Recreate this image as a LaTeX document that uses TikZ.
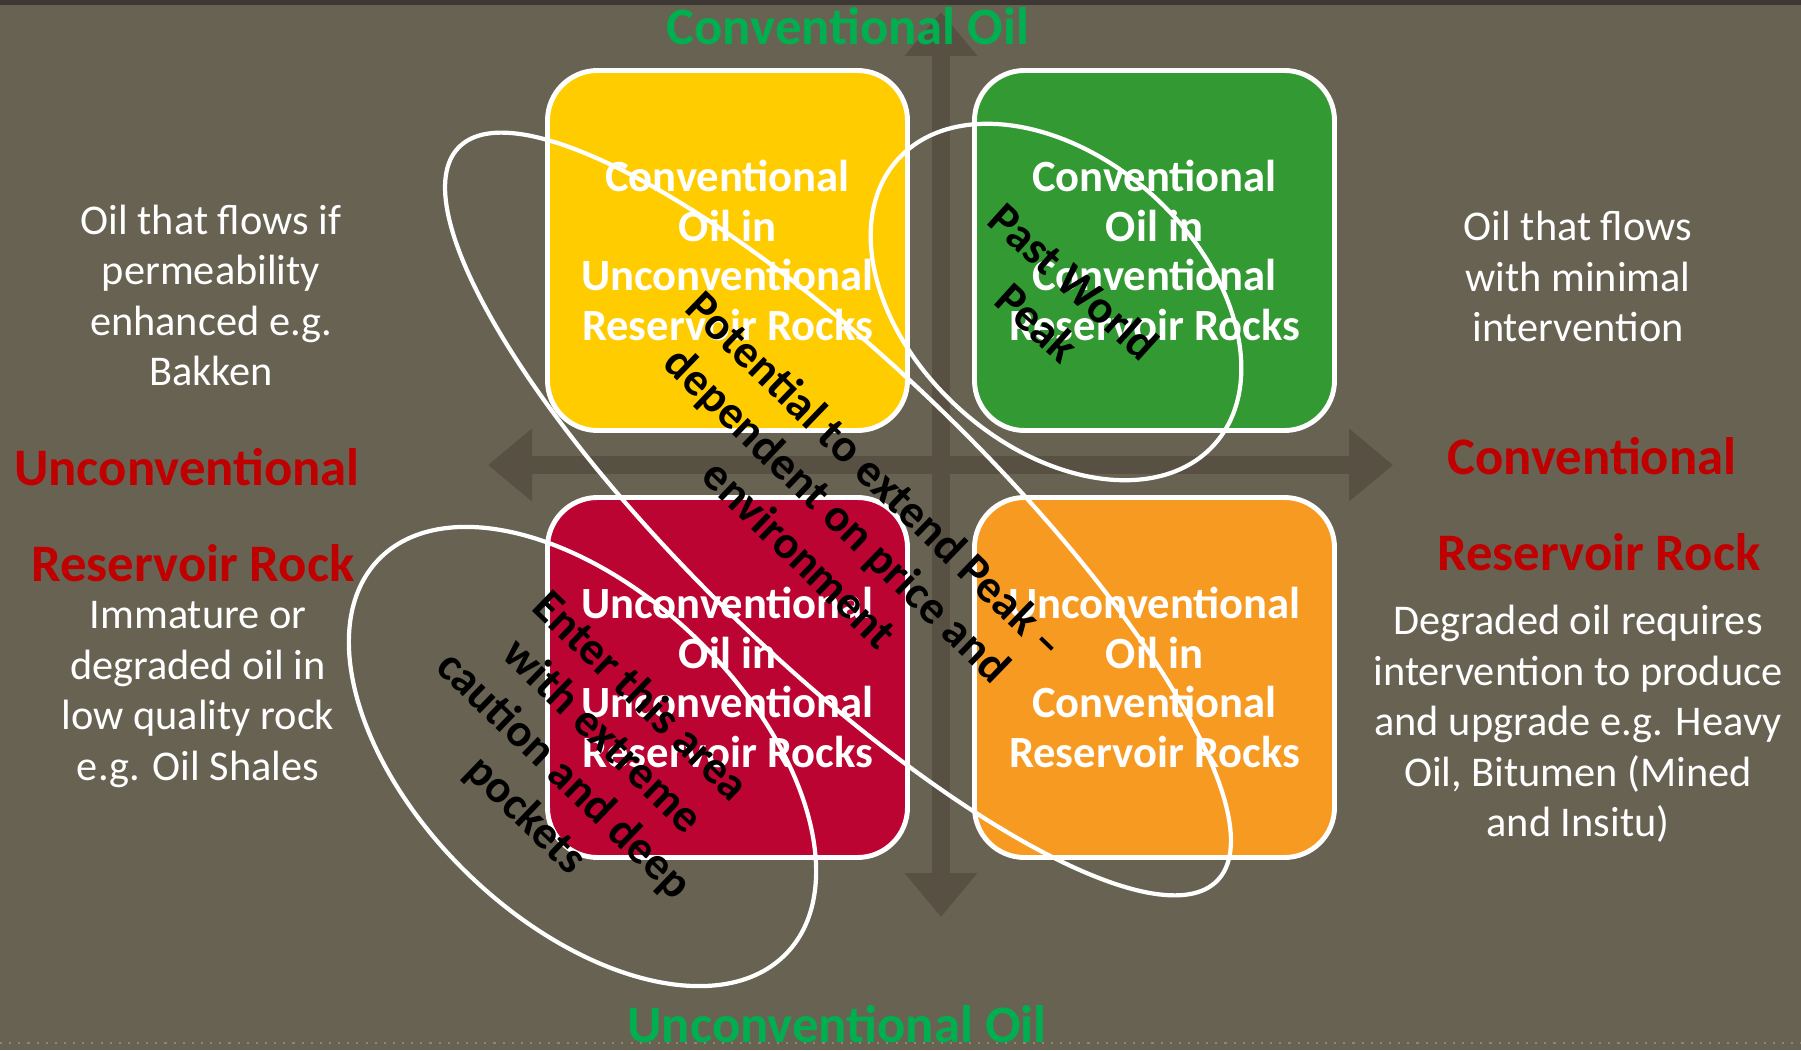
\documentclass[tikz,border=0pt]{standalone}
\usepackage{fontspec}
\setmainfont{Carlito}
\usepackage{tikz}
\usetikzlibrary{shapes.geometric, arrows.meta}
\definecolor{Slide_Bg}{HTML}{686252}
\definecolor{Strip_Dark}{HTML}{3E3834}
\definecolor{Dot_Grey}{HTML}{8C8676}
\definecolor{Axis_Grey}{HTML}{575043}
\definecolor{Title_Green}{HTML}{00B050}
\definecolor{Title_Red}{HTML}{C00000}
\definecolor{Box_Yellow}{HTML}{FFCC00}
\definecolor{Box_Green}{HTML}{339933}
\definecolor{Box_Red}{HTML}{BC0432}
\definecolor{Box_Orange}{HTML}{F79A21}

\tikzset{
  quadbox/.style={draw=white, line width=1.4pt, rounded corners=0.5cm,
    minimum width=3.6cm, minimum height=3.6cm, inner sep=0pt, align=center,
    text=white, font=\bfseries\fontsize{12.7}{14.1}\selectfont},
  zone/.style={ellipse, draw=white, line width=1.2pt, inner sep=0pt,
    align=center, text=black, font=\bfseries\fontsize{13.2}{15.6}\selectfont},
  axisarrow/.style={Axis_Grey, line width=0.18cm,
    {Triangle[length=0.44cm, width=0.70cm]}-{Triangle[length=0.44cm, width=0.70cm]}},
  sidetext/.style={text=white, align=center, font=\fontsize{12.05}{14.4}\selectfont},
  heading/.style={font=\bfseries\fontsize{15}{18}\selectfont}
}

\begin{document}
\begin{tikzpicture}[scale=1.0]

    % === Slide background ===
    \useasboundingbox (0,0) rectangle (18.01,10.5);
    \fill[Slide_Bg] (0,0) rectangle (18.01,10.5);
    \fill[Strip_Dark] (0,10.45) rectangle (18.01,10.5);
    \draw[Dot_Grey, dotted, line width=0.6pt] (0,0.07) -- (18.01,0.07);

    % === Axes ===
    \coordinate (axisW) at (4.88,5.85);
    \coordinate (axisE) at (13.93,5.85);
    \coordinate (axisN) at (9.41,10.38);
    \coordinate (axisS) at (9.41,1.33);
    \draw[axisarrow] (axisW) -- (axisE);
    \draw[axisarrow] (axisS) -- (axisN);

    % === Quadrants ===
    \node[quadbox, fill=Box_Yellow] (convUnconv) at (7.275,7.995)
        {Conventional\\Oil in\\Unconventional\\Reservoir Rocks};
    \node[quadbox, fill=Box_Green] (convConv) at (11.545,7.995)
        {Conventional\\Oil in\\Conventional\\Reservoir Rocks};
    \node[quadbox, fill=Box_Red] (unconvUnconv) at (7.275,3.725)
        {Unconventional\\Oil in\\Unconventional\\Reservoir Rocks};
    \node[quadbox, fill=Box_Orange] (unconvConv) at (11.545,3.725)
        {Unconventional\\Oil in\\Conventional\\Reservoir Rocks};

    % === Axis titles ===
    \node[heading, text=Title_Green, anchor=base] (oilTop) at (8.48,10.05) {Conventional Oil};
    \node[heading, text=Title_Green, anchor=base] (oilBottom) at (8.37,0.08) {Unconventional Oil};
    \node[heading, text=Title_Red] (rockLeftA) at (1.87,5.83) {Unconventional};
    \node[heading, text=Title_Red] (rockLeftB) at (1.93,4.87) {Reservoir Rock};
    \node[heading, text=Title_Red] (rockRightA) at (15.92,5.94) {Conventional};
    \node[heading, text=Title_Red] (rockRightB) at (15.99,4.98) {Reservoir Rock};

    % Notes beside the grid
    \node[sidetext] (noteLeftTop) at (2.11,7.545)
        {Oil that flows if\\permeability\\enhanced e.g.\\Bakken};
    \node[sidetext] (noteLeftBot) at (1.98,3.555)
        {Immature or\\degraded oil in\\low quality rock\\e.g. Oil Shales};
    \node[sidetext] (noteRightTop) at (15.78,7.735)
        {Oil that flows\\with minimal\\intervention};
    \node[sidetext] (noteRightBot) at (15.78,3.26)
        {Degraded oil requires\\intervention to produce\\and upgrade e.g. Heavy\\Oil, Bitumen (Mined\\and Insitu)};

    % === Outlined zones ===
    \node[zone, minimum width=4.26cm, minimum height=2.88cm, rotate=-42] (pastPeak)
        at (10.56,7.48) {Past World\\Peak};
    \node[zone, minimum width=10.55cm, minimum height=2.93cm, rotate=-44] (extendPeak)
        at (8.38,5.36) {Potential to extend Peak –\\dependent on price and\\environment};
    \node[zone, minimum width=5.67cm, minimum height=3.28cm, rotate=-44] (cautionArea)
        at (5.825,2.935) {Enter this area\\with extreme\\caution and deep\\pockets};

\end{tikzpicture}
\end{document}
